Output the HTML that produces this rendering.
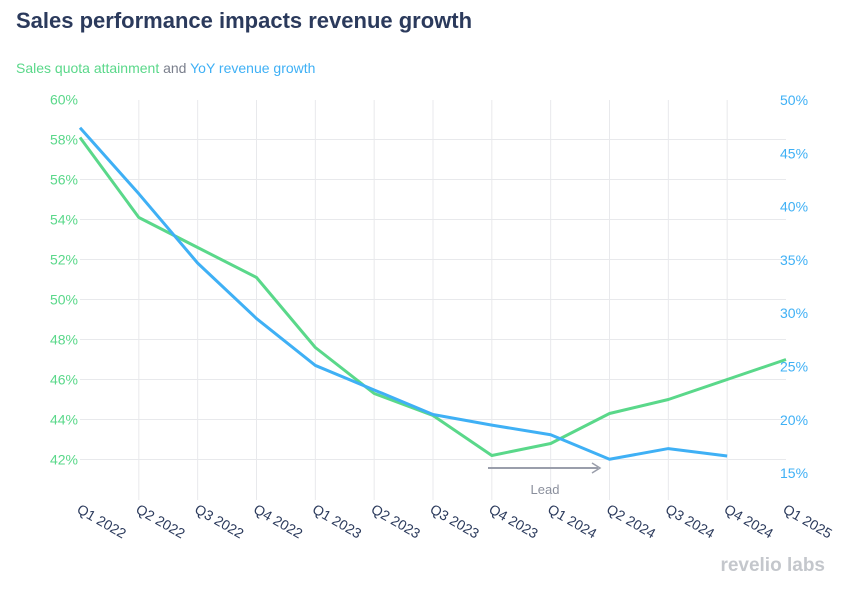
<!DOCTYPE html>
<html><head><meta charset="utf-8"><style>
body{margin:0;background:#fff;font-family:"Liberation Sans",sans-serif;}
#wrap{position:relative;width:855px;height:590px;overflow:hidden;}
</style></head><body>
<div id="wrap">
<svg id="chart" width="855" height="590" xmlns="http://www.w3.org/2000/svg">
<text x="16" y="28" font-size="22" font-weight="bold" fill="#2b3a5c">Sales performance impacts revenue growth</text>
<text x="16" y="73" font-size="14"><tspan fill="#5ad88a">Sales quota attainment</tspan><tspan fill="#7a7f8c"> and </tspan><tspan fill="#3fb0f5">YoY revenue growth</tspan></text>
<g id="grid"></g><g id="axes"></g><g id="series"></g>
<line x1="488" y1="468" x2="598" y2="468" stroke="#9a9eab" stroke-width="2"/>
<path d="M592,463 L600,468 L592,473" fill="none" stroke="#9a9eab" stroke-width="1.5"/>
<text x="545" y="494" font-size="13" fill="#8a8f9c" text-anchor="middle">Lead</text>
<text x="825" y="571" font-size="19" font-weight="bold" fill="#c4c7cc" text-anchor="end">revelio labs</text>
</svg>
</div>
<script>
const categories=["Q1 2022","Q2 2022","Q3 2022","Q4 2022","Q1 2023","Q2 2023","Q3 2023","Q4 2023","Q1 2024","Q2 2024","Q3 2024","Q4 2024","Q1 2025"];
const quotaAttainment=[58.1,54.1,52.6,51.1,47.6,45.3,44.2,42.2,42.8,44.3,45.0,46.0,47.0];
const revenueGrowth=[47.4,41.2,34.7,29.5,25.1,22.8,20.5,19.5,18.6,16.3,17.3,16.6];
const leftTicks=[42,44,46,48,50,52,54,56,58,60];
const rightTicks=[15,20,25,30,35,40,45,50];
const NS="http://www.w3.org/2000/svg";
const x0=80,x1=786;
function xs(i){return x0+i*(x1-x0)/(categories.length-1);}
function yl(v){return 99.5+(60-v)*20;}
function yr(v){return 100+(50-v)*10.66;}
function mk(tag,attrs,parent){const e=document.createElementNS(NS,tag);for(const k in attrs)e.setAttribute(k,attrs[k]);parent.appendChild(e);return e;}
const grid=document.getElementById('grid'),axes=document.getElementById('axes'),series=document.getElementById('series');
leftTicks.forEach(v=>{
  if(v<60){const l=mk('line',{x1:x0,x2:x1,y1:yl(v),y2:yl(v),stroke:'#e8e9ec','stroke-width':1},grid);
  
  }
  const t=mk('text',{x:78,y:yl(v)+5,'font-size':14,fill:'#5ad88a','text-anchor':'end'},axes);
  t.textContent=v+'%';
  
  
});
rightTicks.forEach(v=>{
  const t=mk('text',{x:780,y:yr(v)+5,'font-size':14,fill:'#3fb0f5'},axes);
  t.textContent=v+'%';
  
  
});
categories.forEach((c,i)=>{
  if(i>0&&i<categories.length-1){const l=mk('line',{x1:xs(i),x2:xs(i),y1:100,y2:500,stroke:'#e8e9ec','stroke-width':1},grid);
  
  }
  const x=xs(i)-4,y=512;
  const t=mk('text',{x:x,y:y,'font-size':14,fill:'#2b3a5c',transform:`rotate(30 ${x} ${y})`},axes);
  t.textContent=c;
  
  
});
const g=mk('polyline',{points:quotaAttainment.map((v,i)=>xs(i)+','+yl(v)).join(' '),fill:'none',stroke:'#5ad88a','stroke-width':3,'stroke-linejoin':'round'},series);


const b=mk('polyline',{points:revenueGrowth.map((v,i)=>xs(i)+','+yr(v)).join(' '),fill:'none',stroke:'#3fb0f5','stroke-width':3,'stroke-linejoin':'round'},series);


</script>
</body></html>
